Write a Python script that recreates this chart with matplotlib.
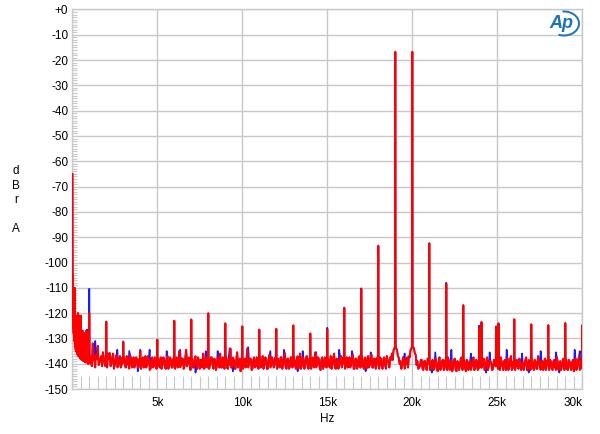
import numpy as np
import matplotlib
matplotlib.use('Agg')
import matplotlib.pyplot as plt
from matplotlib.patches import Arc
from matplotlib.ticker import MultipleLocator

plt.rcParams['font.family'] = ['Liberation Sans', 'DejaVu Sans']

# ---------------- data (kHz, dBrA) ----------------
low_freq = [0.01, 0.015, 0.02, 0.025, 0.03, 0.035, 0.04, 0.045, 0.05, 0.06, 0.07, 0.08,
            0.09, 0.10, 0.11, 0.12, 0.13, 0.14, 0.15, 0.16, 0.17, 0.18, 0.19, 0.20,
            0.21, 0.22, 0.24, 0.26, 0.27, 0.28, 0.29, 0.30, 0.31, 0.32, 0.34, 0.36,
            0.37, 0.38, 0.39, 0.41, 0.43, 0.44, 0.45, 0.46, 0.47, 0.49, 0.51, 0.53,
            0.54, 0.55, 0.56, 0.57, 0.59, 0.61, 0.63, 0.64, 0.65, 0.66, 0.67, 0.69,
            0.71, 0.73, 0.74, 0.75, 0.76, 0.77, 0.79, 0.81, 0.83, 0.84, 0.85, 0.86,
            0.88, 0.90, 0.91, 0.92, 0.93, 0.94, 0.95, 0.96]
low_db = [-65, -96, -112, -108, -120, -114, -105, -122, -118, -126, -121, -128,
          -123, -130, -124, -131, -126, -110, -132, -127, -133, -128, -134, -129,
          -135, -130, -121, -135.5, -130, -136, -131, -136, -130.5, -136.5, -120, -137,
          -131.5, -136.5, -132, -121, -137.5, -132, -137, -131.5, -138, -132.5, -121, -138,
          -133, -138.5, -132.5, -138, -133, -127, -138.5, -133.5, -139, -133, -138.5, -134,
          -128, -139, -134, -138.5, -134.5, -139.5, -133.5, -127, -139, -134.5, -139.5, -135,
          -127.5, -139.5, -135, -140, -135.5, -139.5, -135, -140]

# noise floor sampled every 0.1 kHz from 1.0 to 30.0 kHz (one row per kHz)
floor_db = [
    -138, -139.5, -132, -139, -136.5, -133, -139.5, -137, -135.5, -140,
    -139, -136, -135.8, -140, -136, -140.5, -136.5, -141, -137, -140.5,
    -139.5, -141, -137, -140.5, -136.5, -141.5, -137.5, -140, -138, -141.5,
    -139.5, -139, -141.5, -137, -140.5, -138, -142, -137.5, -141, -138.5,
    -139.5, -141, -137.5, -140.5, -138, -142, -137, -141, -138.5, -141.5,
    -139.5, -139, -141.5, -135, -140.5, -138, -141, -134.5, -140, -138,
    -139.5, -141.5, -138, -140.5, -137.5, -142, -138.5, -136, -141.5, -138,
    -139.5, -140.5, -137.5, -142, -138.5, -141, -138, -136, -141.5, -139,
    -139.5, -141.5, -138, -134, -141, -138.5, -142, -135.5, -140.5, -143,
    -139.5, -139.5, -141.5, -134, -140, -138, -142, -137.5, -141, -138.5,
    -139.5, -141.5, -137, -140.5, -138, -142, -136.5, -141, -138.5, -140.5,
    -139.5, -138, -141.5, -137.5, -140.5, -136, -142, -138, -141, -137.5,
    -139.5, -140.5, -138.5, -142, -136, -141, -138, -140.5, -137, -142,
    -139.5, -139, -141.5, -135.5, -140.5, -138, -142.5, -137.5, -141, -138.5,
    -139.5, -141, -137, -140.5, -136, -142, -138.5, -141, -137, -140,
    -139.5, -138.5, -141.5, -137.5, -140.5, -136.5, -142, -138, -141, -137,
    -139.5, -141, -138, -142, -137, -140.5, -136.5, -141.5, -138, -140.5,
    -139, -137.5, -141, -138, -140.5, -137, -139.5, -137.5, -136, -134.5,
    -133, -134.5, -137.5, -139, -141, -138, -140.5, -137.5, -137, -134.5,
    -133, -134, -136.5, -139, -141.5, -138.5, -142, -139, -141.5, -138,
    -140, -142, -138.5, -141.5, -139, -143, -137.5, -141.5, -138.5, -142,
    -140, -137.5, -142.5, -139, -141.5, -138, -143, -139.5, -141, -137.5,
    -140, -141.5, -138.5, -142.5, -139, -141, -137.5, -142, -139, -141.5,
    -140, -141.5, -138, -142, -137.5, -141, -139, -142.5, -138.5, -141,
    -140.5, -142, -137.5, -141, -139, -142.5, -138, -141.5, -137, -142,
    -140, -139, -141.5, -138, -142.5, -139.5, -141, -137.5, -142, -139,
    -140, -141.5, -138.5, -142, -137, -141, -139, -142.5, -138, -141,
    -140, -138.5, -142, -139, -141.5, -137.5, -142.5, -139, -141, -138,
    -140, -142, -138.5, -141.5, -139.5, -143, -138, -141.5, -137.5, -142,
    -140,
]
floor_freq = [round(1.0 + 0.1 * i, 1) for i in range(len(floor_db))]

# noise floor in between, at 1.05, 1.15, ... 29.95 kHz (one row per kHz)
mid_db = [
    -137, -141, -136, -141.5, -138, -140.5, -138, -141, -137.5, -141,
    -141.5, -138, -141, -137.5, -142, -138, -141.5, -138.5, -141.5, -137.5,
    -137.5, -141.5, -138, -142, -138, -140.5, -141.5, -137.5, -141.5, -138,
    -142, -137.5, -140, -141.5, -137, -142.5, -138.5, -141.5, -137.5, -142,
    -138, -141.5, -142, -137.5, -141.5, -138.5, -142, -137.5, -141.5, -138,
    -142, -137.5, -140, -141.5, -138, -142, -137.5, -141, -137.5, -142.5,
    -138, -141.5, -137, -142, -139, -138.5, -141.5, -142, -137.5, -141.5,
    -142, -137.5, -140.5, -138, -142.5, -137.5, -141.5, -141.5, -137.5, -142,
    -137.5, -142, -140.5, -141.5, -137.5, -142, -138, -141.5, -138, -140,
    -142, -138, -137.5, -141.5, -138, -142.5, -138.5, -141.5, -137.5, -142,
    -137.5, -140.5, -142, -137.5, -142, -138, -141.5, -137.5, -141.5, -137.5,
    -142, -140.5, -137.5, -142, -138, -141.5, -138, -142, -137.5, -141.5,
    -137.5, -142, -137, -139.5, -142, -137.5, -142, -137.5, -141.5, -138,
    -142, -137.5, -140.5, -141.5, -137.5, -141.5, -138.5, -142, -137.5, -141.5,
    -138, -141.5, -142, -137.5, -141.5, -138, -142, -137.5, -141.5, -137.5,
    -142, -137.5, -139, -141.5, -137.5, -142, -138, -142, -137.5, -141.5,
    -137.5, -142, -137.5, -140, -141.5, -137.5, -141.5, -138, -142, -137.5,
    -142, -138, -142, -137.5, -142, -138.5, -141.5, -138.5, -138.5, -134,
    -134, -137, -140, -142, -137.5, -142, -138, -141.5, -137.5, -134,
    -133.5, -136, -140.5, -142, -141, -138.5, -142.5, -139, -142.5, -138.5,
    -142.5, -139, -142.5, -138, -142.5, -139, -142.5, -139, -142.5, -138.5,
    -142.5, -139, -139.5, -143, -138.5, -142.5, -139, -142.5, -138, -142.5,
    -138.5, -143, -139, -140.5, -142.5, -138.5, -142.5, -138.5, -142.5, -138.5,
    -142.5, -138.5, -142.5, -138.5, -142.5, -139, -140, -142, -138.5, -142.5,
    -138.5, -142.5, -139, -142.5, -138.5, -140, -142.5, -138.5, -142.5, -139,
    -142.5, -138.5, -142, -139, -140.5, -142.5, -138.5, -142.5, -138.5, -142.5,
    -138.5, -142.5, -139, -142, -138.5, -142.5, -139, -140, -142.5, -138.5,
    -142.5, -139, -142.5, -138.5, -142.5, -139, -140, -142.5, -138.5, -142.5,
    -138.5, -142.5, -139, -142.5, -138.5, -140, -142.5, -138.5, -142.5, -138.5,
]
mid_freq = [round(1.05 + 0.1 * i, 2) for i in range(len(mid_db))]

spike_freq = [1, 2, 3, 4, 5, 6, 7, 8, 9, 10, 11, 12, 13, 14, 15, 16, 17, 18, 19, 20,
              21, 22, 23, 23.93, 24.07, 24.93, 25.07, 26, 27, 28, 29, 30]
red_spike_db = [-120, -123.5, -131.5, -135, -130.5, -123, -122.5, -120, -124, -125.2,
                -126.5, -126.2, -124.8, -128, -126.4, -118, -110.5, -93.5, -16.7, -16.7,
                -92.5, -108.5, -117, -125.8, -123.5, -125.5, -124, -122.4, -124.4, -124.7,
                -123.9, -124.7]
blue_spike_db = [-110.4, -123.3, -131.2, -134.5, -130.5, -123.2, -122.7, -120.3, -124.2, -125.4,
                 -126.6, -126.4, -125, -128.2, -125.8, -117.8, -110.2, -93.3, -16.9, -16.9,
                 -92.3, -108, -116.8, -125, -123.8, -125.2, -124.3, -122.6, -124.6, -124.9,
                 -124.1, -124.9]

# where the blue trace departs from the red one (peaks above, dips below)
blue_dev_freq = [0.87, 1.35, 2.65, 3.35, 3.85, 4.55, 5.55, 6.35, 7.25, 7.85, 8.55, 9.25,
                 9.45, 10.35, 11.65, 12.45, 13.25, 13.55, 14.35, 15.7, 16.45, 17.25,
                 17.55, 19.55, 21.15, 21.35, 22.3, 23.45, 24.35, 24.55, 25.55, 26.45,
                 26.85, 27.55, 28.45, 28.65, 29.55, 29.85]
blue_dev_db = [-126.5, -131, -134.5, -135, -143, -134.5, -135, -134.5, -143.5, -135, -135, -134,
               -143, -133.5, -135, -134.5, -143, -135, -135.5, -134.5, -135, -143,
               -135.5, -136, -143.5, -135.5, -134.5, -136, -143.5, -135.5, -134.5, -136,
               -143.5, -135, -135.5, -143.5, -134.5, -135]

x_ticks = [5, 10, 15, 20, 25, 30]
x_labels = ['5k', '10k', '15k', '20k', '25k', '30k']
y_ticks = list(range(0, -151, -10))
y_labels = ['+0'] + [str(v) for v in y_ticks[1:]]

SPIKE_HALF_WIDTH = 0.02  # kHz, skirt of one FFT line (drawing style)


def build(spk_db, dev_f=(), dev_db=()):
    pts = {}
    for f, v in zip(low_freq, low_db):
        pts[round(f, 3)] = v
    floor_map = {}
    for f, v in zip(floor_freq, floor_db):
        pts[round(f, 3)] = v
        floor_map[round(f, 1)] = v
    for f, v in zip(mid_freq, mid_db):
        pts[round(f, 3)] = v
    for f, v in zip(dev_f, dev_db):
        pts[round(f, 3)] = v
    for f, v in zip(spike_freq, spk_db):
        base = floor_map.get(round(f, 1), -139.5)
        pts[round(f - SPIKE_HALF_WIDTH, 3)] = base
        pts[round(f + SPIKE_HALF_WIDTH, 3)] = base
        pts[round(f, 3)] = v
    fs = sorted(pts)
    return np.array(fs), np.array([pts[f] for f in fs])


bf, bd = build(blue_spike_db, blue_dev_freq, blue_dev_db)
rf, rd = build(red_spike_db)

# ---------------- figure ----------------
W, H = 600, 434
fig = plt.figure(figsize=(W / 100, H / 100), dpi=100)
left, right, top, bottom = 72.3, 582.3, 9.5, 389.0
ax = fig.add_axes([left / W, 1 - bottom / H, (right - left) / W, (bottom - top) / H])

ax.plot(bf, bd, color='#1a1aff', lw=1.2, zorder=3)
ax.plot(rf, rd, color='#ff0000', lw=1.4, zorder=4)

ax.set_xlim(0, 30)
ax.set_ylim(-150, 0)

grid_c = '#c8c8c8'
ax.set_xticks(x_ticks)
ax.set_xticklabels(x_labels)
ax.set_yticks(y_ticks)
ax.set_yticklabels(y_labels)
ax.xaxis.set_minor_locator(MultipleLocator(0.5))
ax.yaxis.set_minor_locator(MultipleLocator(1))
ax.tick_params(axis='both', which='major', length=0, labelsize=8.5, colors='black')
ax.tick_params(axis='y', which='major', pad=3)
ax.tick_params(axis='x', which='major', pad=6)
ax.tick_params(axis='x', which='minor', direction='in', length=9.5, width=0.8, color=grid_c)
ax.tick_params(axis='y', which='minor', direction='in', length=3.6, width=0.8, color=grid_c)
ax.grid(True, which='major', color=grid_c, lw=1.0, zorder=0)
ax.set_axisbelow(True)
for s in ax.spines.values():
    s.set_color(grid_c)
    s.set_linewidth(1.0)

lbls = ax.get_xticklabels()
lbls[-1].set_horizontalalignment('right')

fig.text(327.3 / W, 1 - 419 / H, 'Hz', ha='center', va='center', fontsize=8.5)
fig.text(16 / W, 1 - 200 / H, 'd\nB\nr\n\nA', ha='center', va='center', fontsize=8.5,
         linespacing=1.25)

# AP logo
logo_c = '#1f72b8'
fig.text(561 / W, 1 - 24 / H, 'Ap', ha='center', va='center', fontsize=13,
         style='italic', weight='bold', color=logo_c)
arc = Arc((564 / W, 1 - 23.5 / H), 30 / W, 24 / H, theta1=-110, theta2=95,
          transform=fig.transFigure, color=logo_c, lw=1.4)
fig.add_artist(arc)

fig.savefig('out.png', dpi=100)
